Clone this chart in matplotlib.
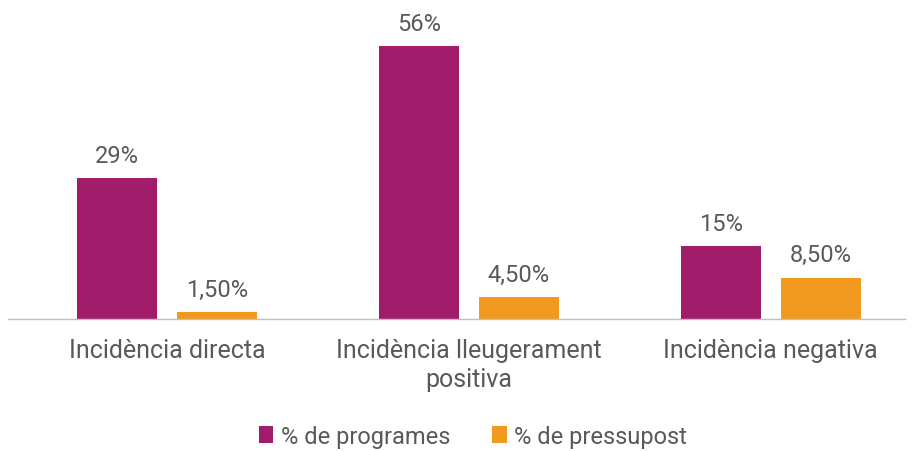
import matplotlib.pyplot as plt
import numpy as np

categories = ["Incidència directa", "Incidència lleugerament\npositiva", "Incidència negativa"]
programes = [29, 56, 15]
pressupost = [1.5, 4.5, 8.5]
labels_programes = ["29%", "56%", "15%"]
labels_pressupost = ["1,50%", "4,50%", "8,50%"]

MAGENTA = "#A21C6C"
ORANGE = "#F29A1F"
GREY = "#595959"

plt.rcParams["font.family"] = ["Roboto", "DejaVu Sans"]

fig = plt.figure(figsize=(9.13, 4.52), dpi=100)
ax = fig.add_axes([0.009, 0.292, 0.982, 0.686])

x = np.arange(len(categories))
w = 0.265
off = 0.166
b1 = ax.bar(x - off, programes, w, color=MAGENTA, label="% de programes")
b2 = ax.bar(x + off, pressupost, w, color=ORANGE, label="% de pressupost")

for rect, txt in zip(b1, labels_programes):
    ax.annotate(txt, (rect.get_x() + rect.get_width() / 2, rect.get_height()),
                xytext=(0, 8), textcoords="offset points", ha="center", va="bottom",
                fontsize=17, color=GREY)
for rect, txt in zip(b2, labels_pressupost):
    ax.annotate(txt, (rect.get_x() + rect.get_width() / 2, rect.get_height()),
                xytext=(0, 8), textcoords="offset points", ha="center", va="bottom",
                fontsize=17, color=GREY)

ax.set_xlim(-0.526, 2.444)
ax.set_ylim(0, 63.6)
ax.set_xticks(x)
ax.set_xticklabels(categories, fontsize=18, color=GREY, linespacing=1.25)
ax.tick_params(axis="x", length=0, pad=14)
ax.set_yticks([])
for s in ["top", "left", "right"]:
    ax.spines[s].set_visible(False)
ax.spines["bottom"].set_color("#BFBFBF")
ax.spines["bottom"].set_linewidth(1)

fig.legend(handles=[b1, b2], loc="center", bbox_to_anchor=(0.518, 0.033),
           ncol=2, frameon=False, fontsize=17, labelcolor=GREY,
           handlelength=0.6, handleheight=0.7, handletextpad=0.3, columnspacing=1.8)

fig.savefig("out.png", dpi=100, facecolor="white")
